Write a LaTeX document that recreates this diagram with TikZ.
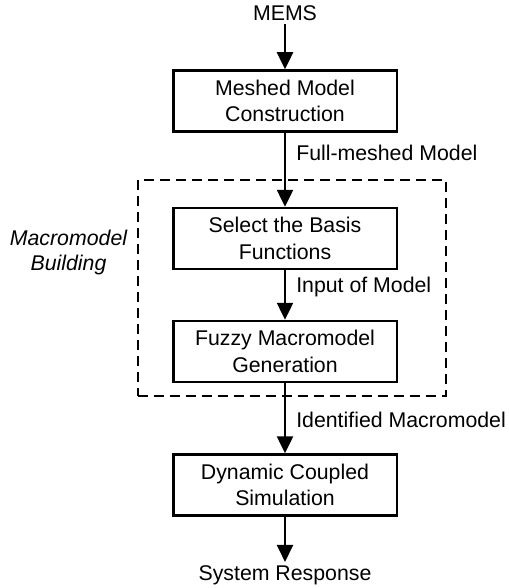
\documentclass[tikz,border=0pt]{standalone}
\usepackage{fontspec}
\setmainfont{Liberation Sans}
\usetikzlibrary{positioning,arrows.meta}

\begin{document}
\begin{tikzpicture}[x=1pt, y=-1pt,
  font=\fontsize{21.3pt}{26.5pt}\selectfont,
  blk/.style={draw, line width=2.5pt, minimum width=223.5pt, minimum height=61pt, align=center, inner sep=0pt},
  flow/.style={line width=2.5pt, -{Triangle[length=17pt, width=16pt]}},
  lbl/.style={right, inner sep=0pt, xshift=10pt},
  note/.style={align=center, font=\fontsize{21.3pt}{25pt}\selectfont\itshape}]
  \useasboundingbox (0,0) rectangle (508,588);

  % macromodel group
  \node[draw, line width=2pt, dash pattern=on 10pt off 6pt, minimum width=308pt, minimum height=216pt] (group) at (292,288) {};
  \node[note] (grouplbl) at (68.5,252.5) {Macromodel\\Building};

  % main chain
  \node[anchor=base, inner sep=3pt] (mems) at (285,21) {MEMS};
  \node[blk] (mesh) at (285,101) {Meshed Model\\Construction};
  \node[blk] (basis) at (285,238.5) {Select the Basis\\Functions};
  \node[blk] (fuzzy) at (285,351.5) {Fuzzy Macromodel\\Generation};
  \node[blk] (sim) at (285,485) {Dynamic Coupled\\Simulation};
  \node[anchor=base, inner sep=3pt] (resp) at (285,580) {System Response};

  \draw[flow] (mems) -- (mesh);
  \draw[flow] (mesh) -- node[lbl, pos=0.27] {Full-meshed Model} (basis);
  \draw[flow] (basis) -- node[lbl, pos=0.34] {Input of Model} (fuzzy);
  \draw[flow] (fuzzy) -- node[lbl, pos=0.53] {Identified Macromodel} (sim);
  \draw[flow] (sim) -- (resp);
\end{tikzpicture}
\end{document}
